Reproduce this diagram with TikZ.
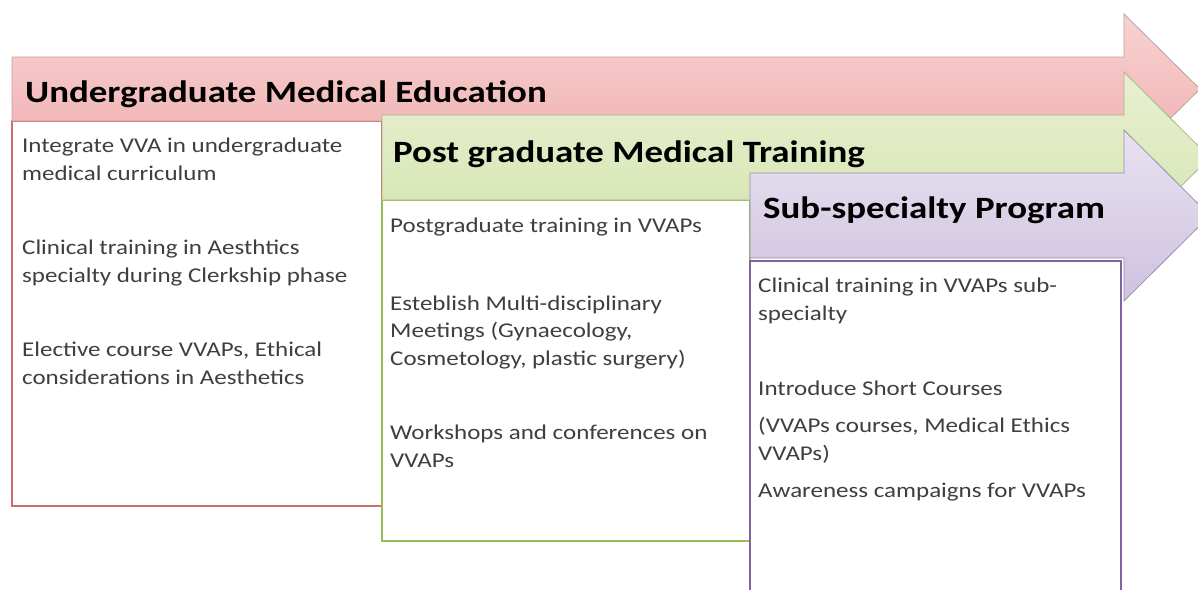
\documentclass[tikz,border=0pt]{standalone}
\usepackage{fontspec}
\setmainfont[FakeStretch=1.19]{Carlito}
\usepackage{xcolor}
\usetikzlibrary{positioning}
\definecolor{ugline}{HTML}{CD6F6C}
\definecolor{pgline}{HTML}{9BBB59}
\definecolor{ssline}{HTML}{8064A2}
\definecolor{ugtop}{HTML}{F8D2D2}
\definecolor{ugbot}{HTML}{F0AEAE}
\definecolor{pgtop}{HTML}{E8F0D2}
\definecolor{pgbot}{HTML}{D4E4AE}
\definecolor{sstop}{HTML}{E8E2F0}
\definecolor{ssbot}{HTML}{CEC2E0}
\definecolor{bodytext}{HTML}{3F3F3F}

\begin{document}
\begin{tikzpicture}[x=1pt,y=-1pt,
                    stage/.style={line width=0.8pt,line join=miter},
                    panel/.style={fill=white,line width=1.8pt},
                    title/.style={anchor=base west,inner sep=0pt,font=\fontsize{31}{34}\selectfont\bfseries},
                    item/.style={anchor=base west,inner sep=0pt,align=left,text=bodytext,
                                 font=\fontsize{21}{27.5}\selectfont}]

  \clip (0,0) rectangle (1198,589);
  \useasboundingbox (0,0) rectangle (1198,589);

  % undergraduate
  \draw[panel,draw=ugline] (12,121) rectangle (382,506);
  \draw[stage,draw=ugline!55!gray!70,top color=ugtop,bottom color=ugbot]
    (12,57) -- (1124,57) -- (1124,14) -- (1200,89) -- (1124,164) -- (1124,121) -- (12,121) -- cycle;

  % postgraduate
  \draw[panel,draw=pgline] (382,200) rectangle (750,541);
  \draw[stage,draw=pgline!60!gray!80,top color=pgtop,bottom color=pgbot]
    (382,115) -- (1124,115) -- (1124,72) -- (1210,157.5) -- (1124,243) -- (1124,200) -- (382,200) -- cycle;

  % sub-specialty
  \draw[panel,draw=ssline] (750,261) rectangle (1121,620);
  \draw[stage,draw=ssline!60!gray!80,top color=sstop,bottom color=ssbot]
    (750,173) -- (1124,173) -- (1124,130) -- (1210,215.5) -- (1124,301) -- (1124,258) -- (750,258) -- cycle;

  \node[title] (ugt) at (25,102)  {Undergraduate Medical Education};
  \node[title] (pgt) at (393,162) {Post graduate Medical Training};
  \node[title] (sst) at (763,218) {Sub-specialty Program};

  % multi-line items sit on their last baseline
  \node[item] (ug1) at (22,180) {Integrate VVA in undergraduate\\medical curriculum};
  \node[item] (ug2) at (22,282) {Clinical training in Aesthtics\\specialty during Clerkship phase};
  \node[item] (ug3) at (22,384) {Elective course VVAPs, Ethical\\considerations in Aesthetics};

  \node[item] (pg1) at (390,232) {Postgraduate training in VVAPs};
  \node[item] (pg2) at (390,365) {Esteblish Multi-disciplinary\\Meetings (Gynaecology,\\Cosmetology, plastic surgery)};
  \node[item] (pg3) at (390,467) {Workshops and conferences on\\VVAPs};

  \node[item] (ss1) at (758,320) {Clinical training in VVAPs sub-\\specialty};
  \node[item] (ss2) at (758,395) {Introduce Short Courses};
  \node[item] (ss3) at (758,460) {(VVAPs courses, Medical Ethics\\VVAPs)};
  \node[item] (ss4) at (758,497) {Awareness campaigns for VVAPs};
\end{tikzpicture}
\end{document}
